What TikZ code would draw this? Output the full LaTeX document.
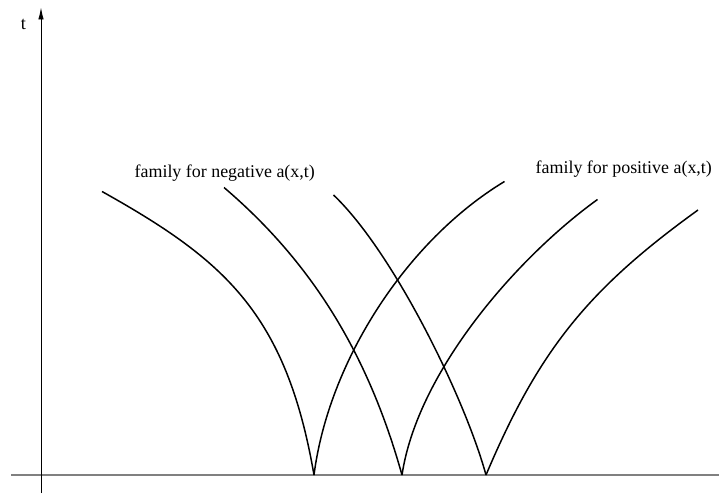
\documentclass[tikz,border=0pt]{standalone}
\usepackage{fontspec}
\setmainfont{Liberation Serif}
\usetikzlibrary{arrows.meta}

\tikzset{every picture/.style={line width=0.75pt}}
\tikzset{charcurve/.style={line width=0.85pt},
         famlabel/.style={anchor=base west, inner sep=0pt, font=\fontsize{10.2}{12.2}\selectfont}}

\begin{document}
\begin{tikzpicture}
        \useasboundingbox (-0.82,-0.54) rectangle (13.56,9.5);
        % axes
        \draw[line width=0.8pt, color=gray] (-0.59,0) -- (13.56,0);
        \draw[line width=0.5pt, -{Latex[length=2.4mm,width=1.1mm]}] (0,-0.36) -- (0,9.35);
        \node[anchor=base, inner sep=0pt, font=\fontsize{10.4}{12.4}\selectfont] (tlab) at (-0.35,8.9) {t};
        % feet of the characteristics
        \coordinate (b1) at (5.46,0);
        \coordinate (b2) at (7.22,0);
        \coordinate (b3) at (8.90,0);
        % family for negative a(x,t)
        \draw[charcurve] (b1) .. controls (4.90,3.25) and (3.65,4.31) .. (1.22,5.67);
        \draw[charcurve] (b2) .. controls (6.57,2.32) and (5.49,4.19) .. (3.66,5.75);
        \draw[charcurve] (b3) .. controls (8.47,1.56) and (7.04,4.47) .. (5.85,5.60);
        % family for positive a(x,t)
        \draw[charcurve] (b1) .. controls (5.75,2.26) and (7.30,4.68) .. (9.27,5.87);
        \draw[charcurve] (b2) .. controls (7.53,2.07) and (9.52,4.35) .. (11.13,5.51);
        \draw[charcurve] (b3) .. controls (9.96,2.51) and (10.95,3.72) .. (13.14,5.30);
        % labels
        \node[famlabel] (neglab) at (1.86,5.95) {family for negative a(x,t)};
        \node[famlabel] (poslab) at (9.88,6.03) {family for positive a(x,t)};
\end{tikzpicture}
\end{document}
